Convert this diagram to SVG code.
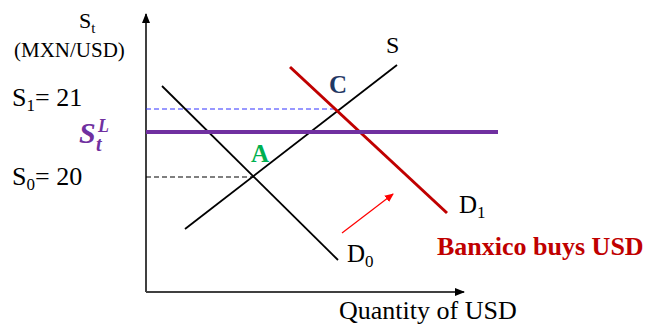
<svg xmlns="http://www.w3.org/2000/svg" width="650" height="326" viewBox="0 0 650 326">
<style>
.tx{font-family:'Liberation Serif','Tinos','DejaVu Serif',serif;fill:#000}
.bold{font-weight:bold}
</style>
<defs>
<marker id="ah" markerWidth="10" markerHeight="8" refX="9" refY="4" orient="auto" markerUnits="userSpaceOnUse">
<path d="M0,0 L10,4 L0,8 Z" fill="#000"/>
</marker>
<marker id="rh" markerWidth="9" markerHeight="8" refX="8" refY="4" orient="auto" markerUnits="userSpaceOnUse">
<path d="M0,0 L9,4 L0,8 Z" fill="#FF0000"/>
</marker>
</defs>
<rect width="650" height="326" fill="#fff"/>
<g id="axes">
<line x1="146" y1="292" x2="146" y2="14" stroke="#404040" stroke-width="2" marker-end="url(#ah)"/>
<line x1="146" y1="292" x2="464" y2="292" stroke="#404040" stroke-width="2" marker-end="url(#ah)"/>
</g>
<g id="connectors">
<line x1="146" y1="109" x2="338" y2="109" stroke="#3333FF" stroke-width="1.2" stroke-dasharray="5,3"/>
<line x1="146" y1="177" x2="254" y2="177" stroke="#000" stroke-width="1.2" stroke-dasharray="5,3"/>
<line x1="342" y1="233" x2="393" y2="194" stroke="#FF0000" stroke-width="1.2" marker-end="url(#rh)"/>
</g>
<g id="curve-S"><line x1="185" y1="229" x2="397" y2="65" stroke="#000" stroke-width="1.8"/></g>
<g id="curve-D0"><line x1="162" y1="86" x2="338" y2="260" stroke="#000" stroke-width="1.8"/></g>
<g id="curve-D1"><line x1="290" y1="67" x2="447" y2="213" stroke="#C00000" stroke-width="3"/></g>
<g id="line-SL"><line x1="146" y1="132" x2="498" y2="132" stroke="#7030A0" stroke-width="4"/></g>
<g id="labels" class="tx" font-family="Liberation Serif, serif">
<text x="79" y="28" font-size="22">S<tspan font-size="15" dy="5">t</tspan></text>
<text x="14" y="57" font-size="21">(MXN/USD)</text>
<text x="12" y="106" font-size="26">S<tspan font-size="17" dy="5">1</tspan><tspan dy="-5">= 21</tspan></text>
<text x="12" y="185" font-size="26">S<tspan font-size="17" dy="5">0</tspan><tspan dy="-5">= 20</tspan></text>
<text x="79" y="143" font-size="30" font-weight="bold" font-style="italic" fill="#7030A0">S<tspan x="98" y="132" font-size="18">L</tspan><tspan x="96" y="151" font-size="20">t</tspan></text>
<text x="251" y="162" font-size="25" class="bold" fill="#00B050">A</text>
<text x="329" y="93" font-size="25" class="bold" fill="#1F3864">C</text>
<text x="386" y="53" font-size="24">S</text>
<text x="459" y="213" font-size="25">D<tspan font-size="17" dy="5">1</tspan></text>
<text x="347" y="262" font-size="25">D<tspan font-size="17" dy="5">0</tspan></text>
<text x="437" y="255" font-size="26" class="bold" fill="#C00000">Banxico buys USD</text>
<text x="339" y="319" font-size="26">Quantity of USD</text>
</g>
</svg>
